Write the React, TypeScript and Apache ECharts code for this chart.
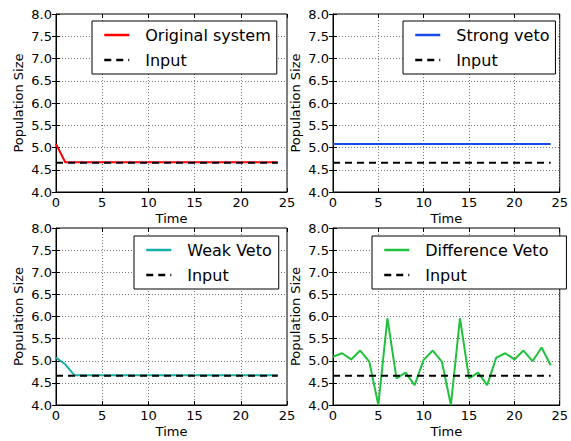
import React, { useEffect, useRef } from "react";
import * as echarts from "echarts";

const time: number[] = Array.from({ length: 25 }, (_, i) => i);
const inputLevel = 4.66;
const inputValues: number[] = time.map(() => inputLevel);
const originalSystem: number[] = [5.08, 4.67, 4.67, 4.67, 4.67, 4.67, 4.67, 4.67, 4.67, 4.67, 4.67, 4.67, 4.67, 4.67, 4.67, 4.67, 4.67, 4.67, 4.67, 4.67, 4.67, 4.67, 4.67, 4.67, 4.67];
const strongVeto: number[] = [5.08, 5.08, 5.08, 5.08, 5.08, 5.08, 5.08, 5.08, 5.08, 5.08, 5.08, 5.08, 5.08, 5.08, 5.08, 5.08, 5.08, 5.08, 5.08, 5.08, 5.08, 5.08, 5.08, 5.08, 5.08];
const weakVeto: number[] = [5.07, 4.92, 4.67, 4.67, 4.67, 4.67, 4.67, 4.67, 4.67, 4.67, 4.67, 4.67, 4.67, 4.67, 4.67, 4.67, 4.67, 4.67, 4.67, 4.67, 4.67, 4.67, 4.67, 4.67, 4.67];
const differenceVeto: number[] = [5.09, 5.17, 5.03, 5.23, 4.98, 4.0, 5.96, 4.6, 4.73, 4.45, 5.02, 5.23, 4.98, 4.0, 5.96, 4.6, 4.73, 4.45, 5.07, 5.17, 5.03, 5.23, 4.99, 5.3, 4.9];

const panels = [
  { name: "Original system", data: originalSystem, color: "#ff0000", grid: { left: 56, top: 14, width: 231, height: 178 }, legend: { left: 92, top: 21, padRight: 6 } },
  { name: "Strong veto", data: strongVeto, color: "#1a4ae6", grid: { left: 333, top: 14, width: 232, height: 178 }, legend: { left: 403, top: 21, padRight: 6 } },
  { name: "Weak Veto", data: weakVeto, color: "#17b0a8", grid: { left: 56, top: 228, width: 231, height: 177 }, legend: { left: 134, top: 236, padRight: 7 } },
  { name: "Difference Veto", data: differenceVeto, color: "#1fc23c", grid: { left: 333, top: 228, width: 232, height: 177 }, legend: { left: 372, top: 236, padRight: 18 } },
];

const FONT = "DejaVu Sans";

export default function App() {
  const ref = useRef<HTMLDivElement>(null);
  useEffect(() => {
    if (!ref.current) return;
    const chart = echarts.init(ref.current, undefined, { renderer: "svg" });
    const grid: any[] = [];
    const xAxis: any[] = [];
    const yAxis: any[] = [];
    const series: any[] = [];
    const legend: any[] = [];
    panels.forEach((p, i) => {
      grid.push({ ...p.grid, show: true, borderColor: "#000", borderWidth: 1, backgroundColor: "#fff" });
      xAxis.push({
        type: "value", gridIndex: i, min: 0, max: 25, interval: 5,
        name: "Time", nameLocation: "middle", nameGap: 20,
        nameTextStyle: { fontFamily: FONT, fontSize: 13, color: "#000" },
        axisLine: { show: true, onZero: false, lineStyle: { color: "#000" } },
        axisTick: { show: true, inside: true, length: 4, lineStyle: { color: "#000" } },
        axisLabel: { fontFamily: FONT, fontSize: 13, color: "#000", margin: 4 },
        splitLine: { show: true, lineStyle: { color: "#777", type: [1, 2], width: 1 } },
      });
      xAxis.push({
        type: "value", gridIndex: i, min: 0, max: 25, interval: 5, position: "top",
        axisLine: { show: false },
        axisTick: { show: true, inside: true, length: 4, lineStyle: { color: "#000" } },
        axisLabel: { show: false }, splitLine: { show: false },
      });
      yAxis.push({
        type: "value", gridIndex: i, min: 4, max: 8, interval: 0.5,
        name: "Population Size", nameLocation: "middle", nameGap: 31,
        nameTextStyle: { fontFamily: FONT, fontSize: 13, color: "#000" },
        axisLine: { show: true, onZero: false, lineStyle: { color: "#000" } },
        axisTick: { show: true, inside: true, length: 4, lineStyle: { color: "#000" } },
        axisLabel: { fontFamily: FONT, fontSize: 13, color: "#000", margin: 4, formatter: (v: number) => v.toFixed(1) },
        splitLine: { show: true, lineStyle: { color: "#777", type: [1, 2], width: 1 } },
      });
      yAxis.push({
        type: "value", gridIndex: i, min: 4, max: 8, interval: 0.5, position: "right",
        axisLine: { show: false },
        axisTick: { show: true, inside: true, length: 4, lineStyle: { color: "#000" } },
        axisLabel: { show: false }, splitLine: { show: false },
      });
      series.push({
        type: "line", name: p.name, xAxisIndex: i * 2, yAxisIndex: i * 2, symbol: "none", showSymbol: false,
        data: time.map((t, k) => [t, p.data[k]]),
        lineStyle: { color: p.color, width: 2 }, itemStyle: { color: p.color }, z: 3,
      });
      series.push({
        type: "line", name: "Input", xAxisIndex: i * 2, yAxisIndex: i * 2, symbol: "none", showSymbol: false,
        data: time.map((t, k) => [t, inputValues[k]]),
        lineStyle: { color: "#000", width: 2, type: [7, 5] }, itemStyle: { color: "#000" }, z: 4,
      });
      legend.push({
        data: [p.name, "Input"], orient: "vertical", left: p.legend.left, top: p.legend.top,
        backgroundColor: "#fff", borderColor: "#000", borderWidth: 1, borderRadius: 0,
        padding: [6, p.legend.padRight, 6, 11], itemWidth: 25, itemHeight: 14, itemGap: 9,
        selectedMode: false,
        itemStyle: { opacity: 0, borderWidth: 0 },
        lineStyle: { width: 2.5 },
        textStyle: { fontFamily: FONT, fontSize: 16, color: "#000", padding: [0, 0, 0, 11] },
      });
    });
    chart.setOption({ animation: false, backgroundColor: "#fff", grid, xAxis, yAxis, series, legend });
    return () => chart.dispose();
  }, []);
  return <div ref={ref} style={{ position: "fixed", left: 0, top: 0, width: 571, height: 441 }} />;
}
